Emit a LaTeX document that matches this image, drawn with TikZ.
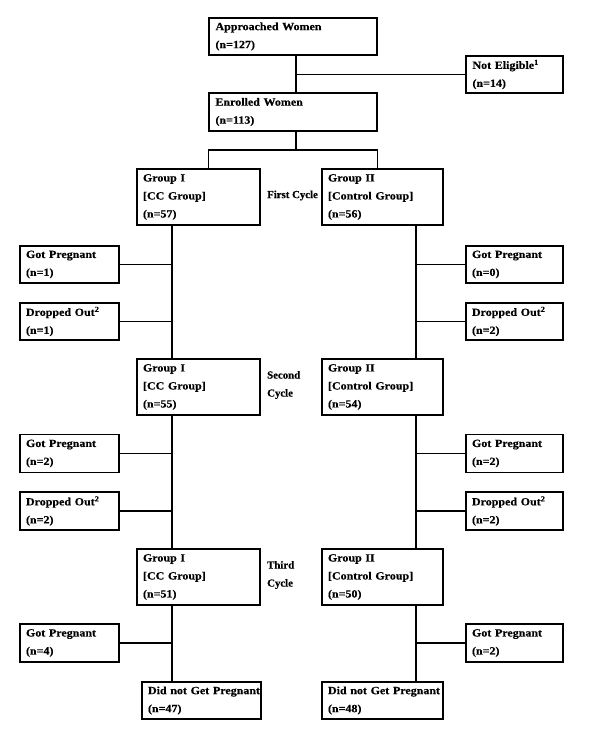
\documentclass[tikz,border=0pt]{standalone}
\usepackage{fontspec}
\setmainfont{Liberation Serif}[FakeStretch=1.09,BoldFeatures={FakeBold=0.4}]
\newfontfamily\cyclefont{Liberation Serif}[FakeStretch=1.0,BoldFeatures={FakeBold=0.4}]
\hyphenpenalty=10000
\begin{document}
\begin{tikzpicture}[x=1pt,y=-1pt,
  box/.style={draw,line width=1.2pt,rectangle,inner sep=0pt,align=left,
    font=\bfseries\fontsize{11}{18}\selectfont,anchor=center},
  b2/.style={box,minimum height=37pt},
  b3/.style={box,minimum height=56pt},
  lbl/.style={anchor=west,align=left,inner sep=0pt,font=\cyclefont\bfseries\fontsize{10.8}{18}\selectfont},
  ln/.style={line width=1.2pt}]
\useasboundingbox (0,0) rectangle (595,744);
% top
\node[b2,minimum width=168pt,text width=155pt] (app) at (293,36.5) {Approached Women\\(n=127)};
\node[b2,minimum width=97pt,text width=84pt] (ne) at (514.5,74.5) {Not Eligible\textsuperscript{1}\\(n=14)};
\node[b2,minimum width=168pt,text width=155pt,minimum height=38pt] (enr) at (293,112) {Enrolled Women\\(n=113)};
% groups
\node[b3,minimum width=123pt,text width=111pt] (g1a) at (198.5,197) {Group I\\{[CC Group]}\\(n=57)};
\node[b3,minimum width=121pt,text width=109pt] (g2a) at (382.5,197) {Group II\\{[Control Group]}\\(n=56)};
\node[b3,minimum width=123pt,text width=111pt] (g1b) at (198.5,387) {Group I\\{[CC Group]}\\(n=55)};
\node[b3,minimum width=121pt,text width=109pt] (g2b) at (382.5,387) {Group II\\{[Control Group]}\\(n=54)};
\node[b3,minimum width=123pt,text width=111pt] (g1c) at (198.5,577) {Group I\\{[CC Group]}\\(n=51)};
\node[b3,minimum width=121pt,text width=109pt] (g2c) at (382.5,577) {Group II\\{[Control Group]}\\(n=50)};
% cycle labels
\node[lbl] (c1) at (267,195.5) {First Cycle};
\node[lbl] (c2) at (267,385) {Second\\Cycle};
\node[lbl] (c3) at (267,575) {Third\\Cycle};
% side boxes left
\node[b2,minimum width=99pt,text width=87pt] (lp1) at (69.5,264.5) {Got Pregnant\\(n=1)};
\node[b2,minimum width=99pt,text width=87pt] (ld1) at (69.5,321.5) {Dropped Out\textsuperscript{2}\\(n=1)};
\node[b2,minimum width=99pt,text width=87pt,minimum height=38pt] (lp2) at (69.5,453.5) {Got Pregnant\\(n=2)};
\node[b2,minimum width=99pt,text width=87pt,minimum height=38pt] (ld2) at (69.5,511) {Dropped Out\textsuperscript{2}\\(n=2)};
\node[b2,minimum width=99pt,text width=87pt,minimum height=38pt] (lp3) at (69.5,643) {Got Pregnant\\(n=4)};
% side boxes right
\node[b2,minimum width=97pt,text width=85pt] (rp1) at (514.5,264.5) {Got Pregnant\\(n=0)};
\node[b2,minimum width=97pt,text width=85pt] (rd1) at (514.5,321.5) {Dropped Out\textsuperscript{2}\\(n=2)};
\node[b2,minimum width=97pt,text width=85pt,minimum height=38pt] (rp2) at (514.5,453.5) {Got Pregnant\\(n=2)};
\node[b2,minimum width=97pt,text width=85pt,minimum height=38pt] (rd2) at (514.5,511) {Dropped Out\textsuperscript{2}\\(n=2)};
\node[b2,minimum width=97pt,text width=85pt,minimum height=38pt] (rp3) at (514.5,643) {Got Pregnant\\(n=2)};
% final
\node[b2,minimum width=119pt,text width=107pt] (dl) at (201.5,700.5) {\mbox{Did not Get Pregnant}\\(n=47)};
\node[b2,minimum width=121pt,text width=109pt] (dr) at (382.5,700.5) {\mbox{Did not Get Pregnant}\\(n=48)};
% connectors
\coordinate (s1) at (296,74.5);
\draw[ln] (app.south -| s1) -- (enr.north -| s1);
\draw[ln] (s1) -- (ne.west);
\coordinate (sp) at (296,150);
\draw[ln] (enr.south -| sp) -- (sp);
\draw[ln] (g1a.north -| enr.west) |- (sp) -| (g2a.north -| enr.east);
\coordinate (tl) at (172,0);
\coordinate (tr) at (416,0);
\draw[ln] (g1a.south -| tl) -- (g1b.north -| tl);
\draw[ln] (g1b.south -| tl) -- (g1c.north -| tl);
\draw[ln] (g1c.south -| tl) -- (dl.north -| tl);
\draw[ln] (g2a.south -| tr) -- (g2b.north -| tr);
\draw[ln] (g2b.south -| tr) -- (g2c.north -| tr);
\draw[ln] (g2c.south -| tr) -- (dr.north -| tr);
\foreach \n in {lp1,ld1,lp2,ld2,lp3} \draw[ln] (\n.east) -- (\n.east -| tl);
\foreach \n in {rp1,rd1,rp2,rd2,rp3} \draw[ln] (\n.west) -- (\n.west -| tr);
\end{tikzpicture}
\end{document}
